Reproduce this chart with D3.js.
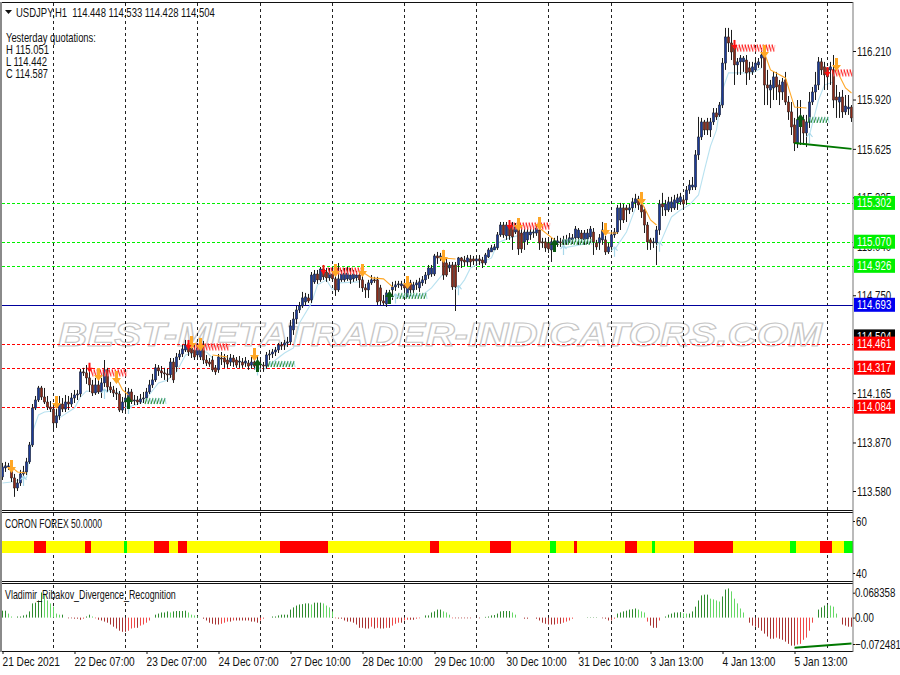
<!DOCTYPE html>
<html><head><meta charset="utf-8">
<script src="https://cdn.jsdelivr.net/npm/d3@7"></script>
<style>html,body{margin:0;padding:0;background:#fff}svg{display:block}text{font-family:"Liberation Sans",sans-serif;font-size:13px;fill:#111}</style>
</head><body><svg id="c" width="900" height="675"></svg>
<script>
const opens=[113.664,113.718,113.724,113.730,113.658,113.598,113.628,113.682,113.694,113.754,
113.855,114.076,114.124,114.196,114.142,114.112,114.082,114.070,113.987,114.029,
114.100,114.070,114.112,114.100,114.136,114.154,114.160,114.292,114.286,114.256,
114.214,114.166,114.214,114.172,114.226,114.304,114.202,114.184,114.166,114.160,
114.064,114.112,114.136,114.172,114.118,114.124,114.112,114.130,114.136,114.172,
114.214,114.244,114.316,114.298,114.286,114.280,114.274,114.351,114.322,114.381,
114.399,114.423,114.447,114.435,114.423,114.393,114.381,114.453,114.363,114.351,
114.363,114.316,114.304,114.375,114.375,114.363,114.351,114.375,114.363,114.351,
114.351,114.345,114.345,114.333,114.351,114.333,114.339,114.333,114.327,114.393,
114.399,114.411,114.423,114.453,114.453,114.465,114.471,114.543,114.608,114.662,
114.686,114.710,114.734,114.722,114.830,114.877,114.842,114.907,114.889,114.854,
114.877,114.848,114.782,114.842,114.842,114.848,114.842,114.848,114.854,114.871,
114.842,114.794,114.782,114.824,114.842,114.842,114.794,114.716,114.698,114.764,
114.782,114.800,114.812,114.806,114.812,114.740,114.824,114.782,114.812,114.794,
114.824,114.842,114.871,114.877,114.877,114.985,114.973,114.985,114.943,114.913,
114.931,114.931,114.931,114.973,114.961,114.949,114.967,114.967,114.955,114.967,
114.961,114.943,114.979,115.009,115.021,115.033,115.111,115.170,115.105,115.158,
115.170,115.128,115.158,115.122,115.069,115.081,115.111,115.122,115.122,115.140,
115.069,115.069,115.063,115.021,115.051,115.063,115.069,115.063,115.063,115.069,
115.081,115.093,115.093,115.122,115.081,115.087,115.099,115.128,115.063,115.063,
115.081,115.081,115.009,115.039,115.111,115.128,115.200,115.272,115.272,115.260,
115.272,115.302,115.326,115.290,115.260,115.170,115.081,115.063,115.063,115.140,
115.296,115.260,115.260,115.272,115.272,115.302,115.308,115.320,115.320,115.379,
115.397,115.397,115.589,115.696,115.786,115.786,115.738,115.786,115.840,115.828,
115.887,116.138,116.294,116.258,116.228,116.127,116.145,116.145,116.156,116.109,
116.085,116.097,116.127,116.168,116.198,116.007,115.977,115.989,116.055,116.007,
115.965,116.037,115.905,115.846,115.768,115.660,115.780,115.798,115.720,115.786,
115.905,115.965,116.007,116.145,116.115,116.109,116.097,116.097,115.935,115.905,
115.935,115.846,115.864,115.875];
const closes=[113.724,113.730,113.730,113.658,113.598,113.628,113.682,113.694,113.754,113.855,
114.076,114.124,114.196,114.142,114.112,114.082,114.070,113.987,114.029,114.100,
114.070,114.112,114.100,114.136,114.154,114.160,114.292,114.286,114.256,114.214,
114.166,114.214,114.172,114.226,114.304,114.202,114.184,114.166,114.160,114.064,
114.112,114.136,114.172,114.118,114.124,114.112,114.130,114.136,114.172,114.214,
114.244,114.316,114.298,114.286,114.280,114.274,114.351,114.244,114.381,114.399,
114.429,114.453,114.411,114.405,114.381,114.435,114.453,114.363,114.345,114.339,
114.304,114.292,114.381,114.369,114.351,114.339,114.375,114.351,114.333,114.357,
114.333,114.357,114.327,114.351,114.327,114.339,114.333,114.327,114.393,114.399,
114.411,114.423,114.453,114.447,114.465,114.471,114.567,114.608,114.662,114.686,
114.734,114.740,114.716,114.871,114.877,114.842,114.907,114.860,114.854,114.883,
114.848,114.782,114.848,114.877,114.883,114.883,114.871,114.877,114.871,114.842,
114.794,114.782,114.824,114.842,114.836,114.710,114.716,114.704,114.764,114.740,
114.800,114.812,114.818,114.818,114.794,114.830,114.782,114.812,114.824,114.830,
114.842,114.871,114.913,114.913,114.985,114.973,114.985,114.871,114.871,114.931,
114.800,114.800,114.973,114.955,114.949,114.973,114.949,114.955,114.967,114.955,
114.943,114.991,115.021,115.033,115.039,115.111,115.170,115.111,115.170,115.105,
115.099,115.158,115.027,115.027,115.128,115.128,115.128,115.128,115.152,115.063,
115.063,115.033,115.027,115.069,115.069,115.075,115.063,115.081,115.081,115.093,
115.093,115.146,115.140,115.087,115.122,115.122,115.146,115.069,115.039,115.093,
115.140,115.009,115.039,115.111,115.128,115.272,115.272,115.200,115.260,115.272,
115.308,115.326,115.290,115.248,115.170,115.069,115.063,115.069,115.140,115.296,
115.278,115.296,115.308,115.308,115.320,115.332,115.338,115.296,115.379,115.409,
115.409,115.589,115.696,115.786,115.738,115.738,115.786,115.840,115.816,115.887,
116.138,116.294,116.258,116.204,116.127,116.145,116.168,116.168,116.079,116.085,
116.115,116.138,116.145,116.186,116.007,115.989,116.007,116.055,115.995,115.965,
116.025,115.905,115.846,115.756,115.660,115.798,115.810,115.720,115.786,115.905,
115.965,116.007,116.145,116.097,116.067,116.055,116.115,115.917,115.917,115.935,
115.846,115.881,115.875,115.810];
const highs=[113.748,113.754,113.748,113.760,113.682,113.652,113.706,113.730,113.778,113.873,
114.100,114.148,114.208,114.208,114.196,114.148,114.118,114.100,114.070,114.148,
114.136,114.154,114.148,114.166,114.184,114.184,114.310,114.316,114.333,114.292,
114.244,114.256,114.262,114.256,114.363,114.316,114.232,114.208,114.196,114.178,
114.142,114.184,114.196,114.190,114.154,114.148,114.160,114.172,114.196,114.244,
114.280,114.339,114.333,114.327,114.316,114.310,114.375,114.375,114.405,114.423,
114.453,114.483,114.483,114.465,114.453,114.465,114.495,114.477,114.393,114.375,
114.387,114.333,114.399,114.411,114.399,114.393,114.399,114.393,114.381,114.387,
114.375,114.381,114.363,114.381,114.375,114.393,114.363,114.351,114.411,114.423,
114.429,114.441,114.465,114.471,114.483,114.501,114.602,114.650,114.686,114.710,
114.770,114.764,114.758,114.889,114.901,114.901,114.919,114.931,114.913,114.913,
114.901,114.913,114.943,114.901,114.913,114.919,114.913,114.901,114.895,114.889,
114.865,114.818,114.842,114.871,114.860,114.860,114.812,114.752,114.782,114.782,
114.830,114.836,114.836,114.836,114.842,114.854,114.842,114.830,114.842,114.854,
114.865,114.889,114.931,114.931,114.997,115.009,115.003,115.021,114.973,114.949,
114.949,114.949,114.979,114.979,114.985,114.991,114.991,114.985,114.985,114.991,
114.979,115.003,115.033,115.051,115.057,115.128,115.188,115.188,115.188,115.176,
115.188,115.182,115.176,115.152,115.152,115.152,115.152,115.152,115.176,115.164,
115.093,115.093,115.081,115.093,115.093,115.105,115.093,115.105,115.111,115.122,
115.116,115.164,115.152,115.140,115.140,115.146,115.164,115.152,115.081,115.116,
115.188,115.105,115.063,115.140,115.152,115.290,115.302,115.296,115.290,115.296,
115.332,115.356,115.344,115.308,115.278,115.188,115.093,115.093,115.164,115.320,
115.362,115.320,115.338,115.338,115.350,115.356,115.362,115.332,115.403,115.439,
115.457,115.618,115.816,115.810,115.798,115.810,115.810,115.869,115.869,115.905,
116.168,116.348,116.348,116.336,116.276,116.168,116.186,116.180,116.186,116.145,
116.145,116.168,116.168,116.228,116.246,116.097,116.037,116.085,116.085,116.037,
116.049,116.085,115.941,115.905,115.810,115.917,115.917,115.828,115.828,115.965,
115.995,116.085,116.174,116.168,116.145,116.109,116.145,116.186,116.007,115.965,
115.977,115.947,115.947,115.887];
const lows=[113.646,113.694,113.706,113.634,113.545,113.580,113.610,113.664,113.676,113.742,
113.843,114.064,114.112,114.124,114.100,114.064,114.052,113.939,113.957,114.005,
114.052,114.052,114.064,114.082,114.106,114.124,114.142,114.268,114.220,114.172,
114.148,114.154,114.160,114.136,114.202,114.172,114.166,114.142,114.124,114.052,
114.046,114.058,114.100,114.100,114.094,114.094,114.100,114.106,114.124,114.160,
114.196,114.232,114.268,114.256,114.244,114.232,114.256,114.226,114.292,114.363,
114.381,114.411,114.387,114.375,114.363,114.363,114.363,114.339,114.327,114.322,
114.292,114.274,114.286,114.333,114.316,114.316,114.327,114.322,114.316,114.316,
114.316,114.322,114.304,114.310,114.304,114.292,114.310,114.292,114.310,114.363,
114.375,114.387,114.405,114.423,114.423,114.441,114.453,114.513,114.578,114.644,
114.674,114.692,114.704,114.704,114.818,114.818,114.830,114.842,114.830,114.836,
114.830,114.746,114.770,114.830,114.830,114.836,114.818,114.830,114.836,114.794,
114.770,114.734,114.734,114.812,114.824,114.692,114.692,114.686,114.680,114.722,
114.722,114.776,114.794,114.782,114.770,114.758,114.746,114.764,114.782,114.770,
114.806,114.818,114.848,114.860,114.865,114.937,114.955,114.842,114.860,114.889,
114.782,114.656,114.889,114.913,114.925,114.925,114.919,114.931,114.925,114.931,
114.913,114.931,114.973,115.009,115.021,115.021,115.099,115.093,115.081,115.081,
115.021,115.116,114.991,115.003,115.021,115.051,115.081,115.093,115.105,115.021,
115.033,115.009,115.003,114.949,115.033,115.039,115.039,115.045,115.051,115.063,
115.057,115.069,115.051,115.063,115.051,115.057,115.063,114.991,115.021,115.021,
115.051,114.991,114.997,115.021,115.093,115.116,115.140,115.182,115.188,115.236,
115.248,115.272,115.260,115.212,115.122,115.021,115.021,115.033,114.931,115.111,
115.224,115.224,115.248,115.248,115.260,115.260,115.290,115.260,115.290,115.356,
115.379,115.379,115.559,115.678,115.708,115.708,115.696,115.768,115.798,115.816,
115.869,116.097,116.204,116.156,116.007,116.067,116.067,116.085,116.007,116.037,
116.067,116.085,116.109,116.109,115.887,115.887,115.869,115.917,115.917,115.887,
115.917,115.887,115.798,115.708,115.612,115.630,115.648,115.648,115.636,115.750,
115.887,115.917,115.977,116.067,115.977,115.977,116.007,115.869,115.810,115.810,
115.810,115.828,115.828,115.786];

const oscValues=[.019,.019,.011,.003,0,.003,.003,.006,.008,.017,
.039,.041,.047,.069,.066,.047,.039,.030,.011,.008,
.008,0,-.002,-.002,-.003,-.003,-.006,-.003,.003,.008,
.003,-.002,-.006,-.008,-.011,-.014,-.019,-.025,-.030,-.036,
-.039,-.039,-.036,-.030,-.028,-.028,-.022,-.019,-.014,-.008,
0,.008,.011,.014,.014,.017,.014,.017,.018,.018,
.018,.019,.014,.008,.006,.003,0,-.003,-.008,-.014,
-.017,-.019,-.019,-.017,-.014,-.011,-.011,-.008,-.008,-.008,
-.008,-.008,-.008,-.011,-.011,-.014,-.008,-.003,0,0,
.003,.003,.006,.008,.008,.008,.022,.028,.033,.036,
.037,.039,.039,.036,.041,.041,.041,.039,.033,.028,
.017,-.002,-.003,-.003,-.008,-.011,-.011,-.014,-.019,-.028,
-.028,-.030,-.030,-.025,-.030,-.028,-.030,-.030,-.028,-.028,
-.022,-.017,-.014,-.014,-.008,-.006,-.006,-.006,-.003,-.002,
0,.006,.006,.014,.017,.022,.022,.017,.014,.008,
-.002,-.002,-.002,-.002,-.002,-.002,-.002,0,0,-.002,
0,.002,.003,.006,.007,.011,.017,.018,.018,.018,
.014,.008,0,0,-.003,-.003,0,0,-.003,-.008,
-.014,-.017,-.019,-.019,-.019,-.017,-.017,-.014,-.011,-.008,
-.003,0,0,0,0,.001,.001,.001,.001,0,
-.002,-.003,-.008,-.008,-.003,.011,.014,.017,.019,.022,
.023,.025,.022,.017,.014,-.011,-.022,-.028,-.028,-.008,
0,.003,.008,.011,.014,.014,.015,.012,.011,.011,
.017,.030,.047,.061,.063,.063,.052,.050,.047,.044,
.058,.077,.080,.072,.052,.039,.025,.014,0,-.014,
-.022,-.025,-.028,-.036,-.044,-.052,-.058,-.058,-.055,-.058,
-.061,-.066,-.072,-.077,-.077,-.074,-.072,-.061,-.055,-.036,
-.014,0,.022,.028,.033,.036,.033,.030,.011,0,
-.019,-.022,-.025,-.025];

const gridBars=[17,41,65,86,110,134,158,182,203,227,251,275];
const timeTickBars=[0,24,48,72,96,120,144,168,192,216,240,264];
const timeLabels=["21 Dec 2021","22 Dec 07:00","23 Dec 07:00","24 Dec 07:00","27 Dec 10:00","28 Dec 10:00","29 Dec 10:00","30 Dec 10:00","31 Dec 10:00","3 Jan 13:00","4 Jan 13:00","5 Jan 13:00"];
const priceTicks=[116.210,115.920,115.625,115.335,115.040,114.750,114.165,113.870,113.580];
const greenLevels=[115.302,115.070,114.926];
const redLevels=[114.461,114.317,114.084];
const blueLevel=114.693;
const bidLevel=114.504;
const coronRed=[[11,14],[28,29],[51,55],[59,61],[93,108],[143,145],[163,169],[191,191],[208,211],[231,243],[273,276]];
const coronGreen=[[41,41],[183,184],[217,217],[263,264],[281,283]];
const coronTicks=[60,40];
const oscTicks=[0.068358,0,-0.072481];
const divergenceMain=[[264,115.660],[283,115.625]];
const divergenceOsc=[[264,-0.0825],[283,-0.071]];
const lightLines=[
[[0,113.628],[3,113.634],[7,113.652],[8,113.658],[9,113.778],[10,113.933],[12,114.035],[14,114.052],[17,114.058],[19,114.017],[21,114.041],[24,114.076],[26,114.142],[28,114.178],[31,114.172],[34,114.184],[39,114.166]],
[[42,114.082],[47,114.112],[52,114.226],[55,114.244],[58,114.292],[61,114.393],[65,114.411],[68,114.411],[70,114.375]],
[[76,114.351],[80,114.351],[85,114.315]],
[[87,114.304],[91,114.363],[94,114.405],[97,114.435],[99,114.584],[103,114.704],[105,114.812],[108,114.842],[110,114.782],[112,114.824],[119,114.830]],
[[131,114.740],[140,114.752],[143,114.794],[146,114.860],[148,114.901]],
[[152,114.794],[154,114.842],[156,114.913],[159,114.943],[163,114.973],[165,115.063],[169,115.093],[173,115.111],[177,115.128],[179,115.140]],
[[187,115.033],[196,115.063]],
[[204,115.021],[208,115.128],[211,115.272]],
[[219,115.051],[223,115.218],[226,115.260],[229,115.290],[232,115.350],[234,115.499],[236,115.642],[238,115.738],[240,115.977],[242,116.079],[244,116.079],[250,116.079],[253,116.109]],
[[269,115.708],[272,115.917],[274,116.007],[277,116.025]]];
const orangeLines=[
[[3,113.724],[5,113.694],[8,113.688]],
[[38,114.256],[40,114.184],[42,114.154]],
[[70,114.393],[75,114.381]],
[[120,114.889],[123,114.854],[127,114.848],[130,114.800]],
[[147,114.973],[151,114.967]],
[[179,115.152],[184,115.081]],
[[201,115.122],[205,115.122]],
[[213,115.308],[216,115.200],[218,115.170]],
[[254,116.198],[256,116.097],[261,116.049],[264,115.875],[268,115.869]],
[[278,116.097],[281,115.989],[283,115.959]]];
const orangeArrows=[[3,113.724],[18,114.106],[32,114.274],[38,114.256],[63,114.465],[66,114.453],[84,114.393],[111,114.895],[120,114.895],[135,114.824],[147,114.979],[172,115.170],[179,115.176],[201,115.140],[213,115.326],[254,116.204],[278,116.127]];
const redArrows=[[29,114.316],[62,114.453],[107,114.901],[169,115.170],[244,116.246],[275,116.085]];
const greenArrows=[[42,114.112],[85,114.333],[129,114.740],[184,115.051],[266,115.798]];
const lightArrows=[[7,113.640],[34,114.160],[42,114.070],[85,114.300],[131,114.730],[152,114.780],[187,115.020],[204,115.010],[219,115.040],[269,115.690]];
const redHatch=[[30,41,114.286],[64,75,114.441],[109,120,114.895],[170,182,115.164],[245,257,116.228],[277,283,116.079]];
const greenHatch=[[48,54,114.118],[89,97,114.339],[132,141,114.746],[187,196,115.069],[269,275,115.798]];

const svg=d3.select("#c");
const x=d3.scaleLinear().domain([0,283]).range([2.5,851.5]);
const y=d3.scaleLinear().domain([116.21,113.58]).range([51,491]);
const yC=d3.scaleLinear().domain([60,40]).range([521,573]);
const yO=d3.scaleLinear().domain([0.068358,-0.072481]).range([592.7,644]);
const line=d3.line().x(d=>x(d[0])).y(d=>y(d[1]));

// watermark
svg.append("text").attr("class","wm").attr("x",58).attr("y",346).attr("textLength",764).attr("lengthAdjust","spacingAndGlyphs")
 .text("BEST-METATRADER-INDICATORS.COM")
 .style("font-style","italic").style("font-weight","bold").style("font-size","33px")
 .style("fill","#fff").style("stroke","#c6c6c6").style("stroke-width",1.1);

// grid
svg.append("g").selectAll("line").data(gridBars).join("line")
 .attr("x1",d=>x(d)).attr("x2",d=>x(d)).attr("y1",3).attr("y2",651)
 .attr("stroke","#222").attr("stroke-width",1).attr("stroke-dasharray","3,3");

// levels
const lvl=svg.append("g");
function hline(v,c,dash){lvl.append("line").attr("x1",2).attr("x2",853).attr("y1",Math.round(y(v))+.5).attr("y2",Math.round(y(v))+.5).attr("stroke",c).attr("stroke-dasharray",dash);}
greenLevels.forEach(v=>hline(v,"#00f000","3,2"));
redLevels.forEach(v=>hline(v,"#ff0000","3,2"));
hline(blueLevel,"#00009c",null);

// light band
svg.append("g").selectAll("path").data(lightLines).join("path").attr("d",line).attr("fill","none").attr("stroke","#b9e2f0").attr("stroke-width",1.1);

// candles
const idx=d3.range(opens.length);
const cg=svg.append("g");
cg.selectAll(".w").data(idx).join("line").attr("x1",i=>x(i)).attr("x2",i=>x(i)).attr("y1",i=>y(highs[i])).attr("y2",i=>y(lows[i])).attr("stroke","#1c1c1c").attr("stroke-width",1);
cg.selectAll(".b").data(idx).join("rect").attr("x",i=>x(i)-1.2).attr("width",2.4)
 .attr("y",i=>Math.min(y(opens[i]),y(closes[i])))
 .attr("height",i=>Math.max(1,Math.abs(y(opens[i])-y(closes[i]))))
 .attr("fill",i=>closes[i]>opens[i]?"#1c3a98":closes[i]<opens[i]?"#8e2a18":"#222")
 .attr("stroke","#222").attr("stroke-width",.5);

// orange trail
svg.append("g").selectAll("path").data(orangeLines).join("path").attr("d",line).attr("fill","none").attr("stroke","#ffa726").attr("stroke-width",1.1);

// hatches
const hg=svg.append("g");
redHatch.forEach(h=>{d3.range(h[0],h[1]+1).forEach(i=>{
 hg.append("path").attr("d",`M${x(i)-1.5},${y(h[2])-3.5}L${x(i)+.5},${y(h[2])+3.5}`).attr("stroke","#ff2020").attr("stroke-width",1.1).attr("fill","none");
 hg.append("path").attr("d",`M${x(i)+.5},${y(h[2])+3.5}L${x(i)+1.5},${y(h[2])-3}`).attr("stroke","#ffb0b0").attr("stroke-width",.8).attr("fill","none");
});});
greenHatch.forEach(h=>{d3.range(h[0],h[1]+1).forEach(i=>{
 hg.append("path").attr("d",`M${x(i)-1.5},${y(h[2])+3}L${x(i)+.5},${y(h[2])-3}`).attr("stroke","#2b8c3a").attr("stroke-width",1.1).attr("fill","none");
 hg.append("path").attr("d",`M${x(i)+.5},${y(h[2])-3}L${x(i)+1.5},${y(h[2])+3}`).attr("stroke","#a8dcec").attr("stroke-width",.9).attr("fill","none");
});});

// arrows
const down="M-1.5,-7H1.5V0H4.5L0,6L-4.5,0H-1.5Z", up="M-1.5,7H1.5V0H4.5L0,-6L-4.5,0H-1.5Z", thin="M-1,-5H1V0H3L0,5L-3,0H-1Z";
const ag=svg.append("g");
ag.selectAll(".l").data(lightArrows).join("path").attr("d","M0,-5L3,-1M0,-5L-3,-1M0,-5V5").attr("transform",d=>`translate(${x(d[0])},${y(d[1])})`).attr("stroke","#a8d8ea").attr("stroke-width",1.2).attr("fill","none");
ag.selectAll(".o").data(orangeArrows).join("path").attr("d",down).attr("transform",d=>`translate(${x(d[0])},${y(d[1])})`).attr("fill","#ffa726");
ag.selectAll(".r").data(redArrows).join("path").attr("d",thin).attr("transform",d=>`translate(${x(d[0])},${y(d[1])})`).attr("fill","#ff1010");
ag.selectAll(".g").data(greenArrows).join("path").attr("d",up).attr("transform",d=>`translate(${x(d[0])},${y(d[1])})`).attr("fill","#0a5a14");

// divergence
svg.append("path").attr("d",line(divergenceMain)).attr("fill","none").attr("stroke","#007800").attr("stroke-width",2);

// coron band
const cband=svg.append("g");
const bandTop=yC(50)-6, bandH=12;
cband.append("rect").attr("x",x(0)-.5).attr("width",x(283)-x(0)+1).attr("y",bandTop).attr("height",bandH).attr("fill","#ffff00");
cband.selectAll(".red").data(coronRed).join("rect").attr("x",d=>x(d[0])-1.5).attr("width",d=>x(d[1])-x(d[0])+3).attr("y",bandTop).attr("height",bandH).attr("fill","#ff0000");
cband.selectAll(".grn").data(coronGreen).join("rect").attr("x",d=>x(d[0])-1.5).attr("width",d=>x(d[1])-x(d[0])+3).attr("y",bandTop).attr("height",bandH).attr("fill","#00ff00");

// oscillator
svg.append("g").selectAll("line").data(oscValues).join("line")
 .attr("x1",(d,i)=>x(i)).attr("x2",(d,i)=>x(i)).attr("y1",yO(0)).attr("y2",d=>yO(d))
 .attr("stroke",(d,i)=>{const grow=i===0||Math.abs(d)>=Math.abs(oscValues[i-1]);return d>0?(grow?"#2e8b2e":"#66d866"):(grow?"#a83232":"#f04848");})
 .attr("stroke-width",1);
svg.append("path").attr("d",d3.line().x(d=>x(d[0])).y(d=>yO(d[1]))(divergenceOsc)).attr("fill","none").attr("stroke","#007800").attr("stroke-width",2);

// frames
const fr=svg.append("g").attr("stroke","#111").attr("stroke-width",1);
[2.5,510.5,512.5,581.5,583.5,651.5].forEach(v=>fr.append("line").attr("x1",2).attr("x2",853).attr("y1",v).attr("y2",v));
svg.append("rect").attr("x",0).attr("y",2).attr("width",2).attr("height",650).attr("fill","#8a8a8a");
svg.append("rect").attr("x",852.5).attr("y",2).attr("width",1).attr("height",650).attr("fill","#777");

// axes
function style(g){g.select(".domain").remove();g.selectAll("line").attr("stroke","#111");g.selectAll("text").style("fill","#111");}
svg.append("g").attr("transform","translate(853,0)").call(d3.axisRight(y).tickValues(priceTicks).tickSize(3).tickPadding(1).tickFormat(d3.format(".3f"))).call(style);
svg.append("g").attr("transform","translate(853,0)").call(d3.axisRight(yC).tickValues(coronTicks).tickSize(2).tickPadding(1)).call(style);
svg.append("g").attr("transform","translate(853,0)").call(d3.axisRight(yO).tickValues(oscTicks).tickSize(2).tickPadding(0).tickFormat(d=>d===0?"0.00":d3.format(".6f")(d))).call(style);
const xa=svg.append("g").attr("class","timeaxis").attr("transform","translate(0,651)").call(d3.axisBottom(x).tickValues(timeTickBars).tickSize(3).tickPadding(3).tickFormat((d,i)=>timeLabels[i]));
xa.call(style); xa.selectAll("text").style("text-anchor","start").attr("dx",-.5);

// price flags
function flag(v,bg){svg.append("rect").attr("x",854).attr("y",y(v)-7).attr("width",41).attr("height",14).attr("fill",bg);
 svg.append("text").attr("x",857).attr("y",y(v)+4.5).style("fill","#fff").text(d3.format(".3f")(v));}
flag(bidLevel,"#000");
greenLevels.forEach(v=>flag(v,"#00f000"));
flag(blueLevel,"#0000f0");
redLevels.forEach(v=>flag(v,"#ff0000"));

// legend text
svg.append("path").attr("d","M5,10H12L8.5,14Z").attr("fill","#111");
const tx=[["USDJPY,H1  114.448 114.533 114.428 114.504",16,17,199],["Yesterday quotations:",6,42,90],["H 115.051",6,54,43],["L 114.442",6,66,41],["C 114.587",6,78,42],["CORON FOREX 50.0000",5,528,97],["Vladimir_Ribakov_Divergence_Recognition",5,599,171]];
svg.append("g").attr("class","legend").selectAll("text").data(tx).join("text").attr("x",d=>d[1]).attr("y",d=>d[2]).style("white-space","pre").text(d=>d[0])
 .property("__w",d=>d[3]);

// condensed appearance: narrow every label horizontally about its own left edge
svg.selectAll("text").each(function(){
 if(this.classList.contains("wm"))return;
 const w=this.getComputedTextLength();
 const k=this.__w?this.__w/w:(this.closest(".timeaxis")?.78:.745);
 const b=this.getBBox();
 this.setAttribute("transform",`translate(${b.x},0) scale(${k},1) translate(${-b.x},0)`);
});
</script></body></html>
